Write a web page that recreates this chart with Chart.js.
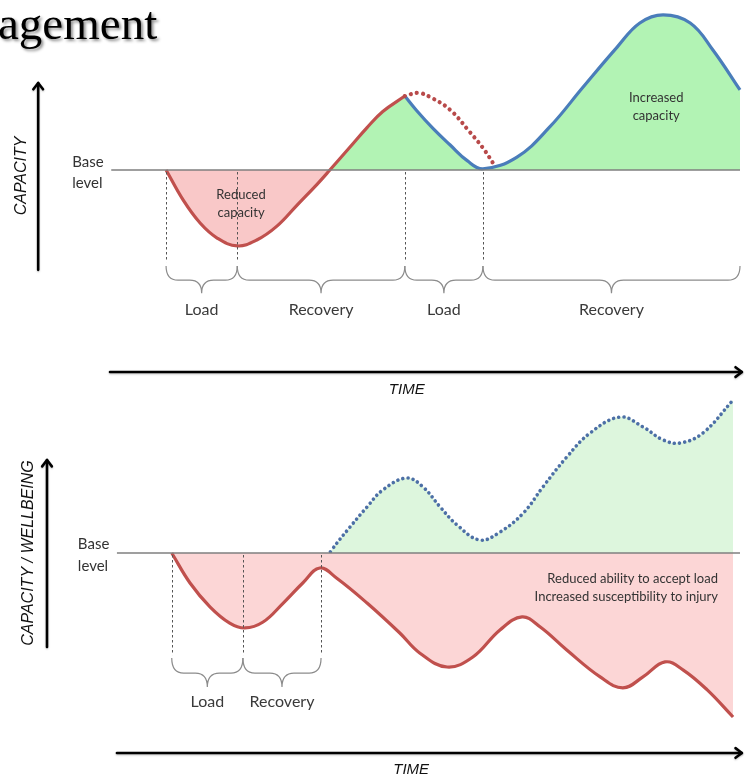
<!DOCTYPE html>
<html><head><meta charset="utf-8">
<script src="https://cdn.jsdelivr.net/npm/chart.js@4.4.1/dist/chart.umd.min.js"></script>
<style>
html,body{margin:0;padding:0;background:#fff;width:748px;height:777px;overflow:hidden}
canvas{position:absolute;left:0;display:block}
#topChart{top:0}
#botChart{top:380px}
</style></head><body>
<canvas id="topChart" width="748" height="400"></canvas>
<canvas id="botChart" width="748" height="397"></canvas>
<script>
// ---------- DATA (time 0..100, capacity relative to base level = 0) ----------
// Top panel: load / recovery leading to increased capacity
const topLoadTime = [8.9, 11.6, 14.3, 17.0, 20.2, 23.3, 26.5, 29.7, 32.9, 34.9, 38.1, 40.8, 43.3, 46.8];
const topLoadCap  = [0, -19.2, -34, -43.6, -48.7, -44.9, -36.0, -22.5, -9.0, 0, 14.7, 27.2, 37.5, 47.4];
const topGainTime = [46.8, 48.7, 51.3, 54.0, 56.7, 59.2, 64.6, 69.8, 75.1, 80.5, 84.1, 87.8, 92.1, 95.7, 100];
const topGainCap  = [47.4, 38.0, 26.5, 16.0, 6.0, 0.8, 8.3, 27.6, 53.2, 78.8, 94.2, 99.4, 94.2, 76.9, 51.3];
const topSkipTime = [46.8, 48.9, 50.8, 54.0, 57.1, 59.2, 61.0];
const topSkipCap  = [47.4, 49.4, 46.8, 38.5, 24.4, 14.1, 3.2];
const topPhaseBounds = [8.9, 20.2, 46.8, 59.2, 100];
const topPhaseLabels = ['Load', 'Recovery', 'Load', 'Recovery'];

// Bottom panel: insufficient recovery
const botStrainTime = [9.8, 12.7, 15.9, 19.0, 21.4, 24.3, 27.5, 30.6, 33.3, 36.0, 40.8, 46.0, 49.2, 53.5, 57.6, 61.9, 65.4, 68.3, 72.5, 77.8, 81.4, 84.6, 88.1, 91.0, 94.8, 98.9];
const botStrainCap  = [0, -19.6, -35.3, -45.8, -49.0, -45.1, -32.7, -19.6, -9.8, -16.5, -32.7, -52.3, -65.5, -74.5, -68.0, -50.3, -41.8, -48.4, -63.4, -81.0, -88.2, -81.0, -71.2, -76.5, -89.5, -107.2];
const botPotentialTime = [33.7, 35.2, 38.1, 40.8, 43.3, 47.1, 49.7, 52.4, 55.1, 58.7, 61.9, 65.6, 68.7, 72.5, 76.2, 81.0, 84.6, 87.8, 90.5, 94.1, 98.9];
const botPotentialCap  = [-7.8, 2.0, 17.0, 30.1, 41.2, 49.0, 43.1, 30.1, 18.3, 8.5, 13.7, 26.1, 43.1, 62.7, 78.4, 88.9, 82.4, 73.9, 71.9, 78.4, 100];
const botPhaseBounds = [9.8, 21.1, 33.5];
const botPhaseLabels = ['Load', 'Recovery'];

// ---------- helpers ----------
const pts = (xs, ys) => xs.map((x, i) => ({x: x, y: ys[i]}));
const RED = '#c0504d', BLUE = '#4a7dba';
const SANS = 'Lato, "Open Sans", sans-serif';
const AX = '"Liberation Sans", Arial, sans-serif';

function arrow(ctx, x1, y1, x2, y2) {
  ctx.save();
  ctx.strokeStyle = '#000'; ctx.lineWidth = 2.6; ctx.lineCap = 'round'; ctx.lineJoin = 'round';
  ctx.shadowColor = 'rgba(0,0,0,0.25)'; ctx.shadowBlur = 2; ctx.shadowOffsetY = 1;
  ctx.beginPath(); ctx.moveTo(x1, y1); ctx.lineTo(x2, y2); ctx.stroke();
  const a = Math.atan2(y2 - y1, x2 - x1), L = 8, s = 0.65;
  ctx.beginPath();
  ctx.moveTo(x2 - L * Math.cos(a - s), y2 - L * Math.sin(a - s));
  ctx.lineTo(x2, y2);
  ctx.lineTo(x2 - L * Math.cos(a + s), y2 - L * Math.sin(a + s));
  ctx.stroke();
  ctx.restore();
}
function brace(ctx, x1, x2, yTop, yTip) {
  const xm = (x1 + x2) / 2, ym = yTop + (yTip - yTop) * 0.52, r = Math.min(12, (x2 - x1) / 4);
  ctx.beginPath();
  ctx.moveTo(x1, yTop);
  ctx.quadraticCurveTo(x1, ym, x1 + r, ym);
  ctx.lineTo(xm - r, ym);
  ctx.quadraticCurveTo(xm, ym, xm, yTip);
  ctx.quadraticCurveTo(xm, ym, xm + r, ym);
  ctx.lineTo(x2 - r, ym);
  ctx.quadraticCurveTo(x2, ym, x2, yTop);
  ctx.stroke();
}

function makeDecor(cfg) {
  return {
    id: 'decor_' + cfg.name,
    afterDatasetsDraw(chart) {
      const ctx = chart.ctx, xs = chart.scales.x, ys = chart.scales.y;
      const X = v => xs.getPixelForValue(v), Y = v => ys.getPixelForValue(v);
      ctx.save();
      // base line
      ctx.strokeStyle = '#7f7f7f'; ctx.lineWidth = 1.6;
      ctx.beginPath(); ctx.moveTo(X(cfg.baseFrom), Y(0)); ctx.lineTo(X(100), Y(0)); ctx.stroke();
      // dashed phase lines
      ctx.strokeStyle = '#555'; ctx.lineWidth = 1; ctx.setLineDash([2.5, 2.5]);
      cfg.bounds.forEach((b) => {
        if (b >= 100) return;
        ctx.beginPath(); ctx.moveTo(Math.round(X(b)) + 0.5, Y(0) + 2); ctx.lineTo(Math.round(X(b)) + 0.5, Y(cfg.dashEnd)); ctx.stroke();
      });
      ctx.setLineDash([]);
      // braces + labels
      ctx.strokeStyle = '#8c8c8c'; ctx.lineWidth = 1.2;
      ctx.fillStyle = '#3a3a3a'; ctx.font = '16px ' + SANS; ctx.textAlign = 'center'; ctx.textBaseline = 'middle';
      for (let i = 0; i < cfg.labels.length; i++) {
        const a = X(cfg.bounds[i]), b = X(cfg.bounds[i + 1]);
        brace(ctx, a, b, Y(cfg.braceTop), Y(cfg.braceTip));
        ctx.fillText(cfg.labels[i], (a + b) / 2, Y(cfg.labelY));
      }
      // base level text
      ctx.textAlign = 'left'; ctx.font = '15px ' + SANS; ctx.fillStyle = '#333';
      ctx.fillText('Base', X(cfg.baseTextX), Y(cfg.baseTextY[0]));
      ctx.fillText('level', X(cfg.baseTextX), Y(cfg.baseTextY[1]));
      // notes
      cfg.notes.forEach(n => {
        ctx.font = n.size + 'px ' + SANS; ctx.textAlign = n.align; ctx.fillStyle = '#333';
        ctx.fillText(n.text, X(n.x), Y(n.y));
      });
      // axes arrows
      arrow(ctx, X(cfg.yArrow.x), Y(cfg.yArrow.from), X(cfg.yArrow.x), Y(cfg.yArrow.to));
      arrow(ctx, X(cfg.tArrow.from), Y(cfg.tArrow.y), X(cfg.tArrow.to), Y(cfg.tArrow.y));
      ctx.fillStyle = '#111'; ctx.font = 'italic 15px ' + AX; ctx.textAlign = 'center';
      ctx.fillText('TIME', X(cfg.timeLabel[0]), Y(cfg.timeLabel[1]));
      ctx.save();
      ctx.translate(X(cfg.yLabel.x), Y(cfg.yLabel.y)); ctx.rotate(-Math.PI / 2);
      ctx.font = 'italic 16px ' + AX; ctx.fillText(cfg.yLabel.text, 0, 0);
      ctx.restore();
      if (cfg.title) {
        ctx.save();
        ctx.font = '47px "Liberation Serif", "Times New Roman", serif'; ctx.textAlign = 'left'; ctx.textBaseline = 'alphabetic';
        ctx.shadowColor = 'rgba(0,0,0,0.45)'; ctx.shadowBlur = 3; ctx.shadowOffsetX = 2; ctx.shadowOffsetY = 2;
        ctx.fillStyle = '#000'; ctx.fillText(cfg.title, -2, 39);
        ctx.restore();
      }
      ctx.restore();
    }
  };
}

function baseOptions(yMin, yMax, pad) {
  return {
    responsive: false, animation: false, devicePixelRatio: 1,
    layout: {padding: pad},
    plugins: {legend: {display: false}, tooltip: {enabled: false}, title: {display: false}},
    elements: {point: {radius: 0}, line: {tension: 0.4, cubicInterpolationMode: 'default'}},
    scales: {
      x: {type: 'linear', min: 0, max: 100, display: false},
      y: {type: 'linear', min: yMin, max: yMax, display: false}
    }
  };
}

const GREEN_TOP = 'rgba(178,243,180,1)', PINK_TOP = 'rgba(249,200,200,1)';

// ---------- TOP CHART ----------
// fill area uses the load curve followed by the gain curve (cusp point repeated keeps the corner sharp)
new Chart(document.getElementById('topChart'), {
  type: 'line',
  data: {datasets: [
    {data: pts(topSkipTime, topSkipCap), borderColor: '#b84a4a', borderWidth: 4.2, clip: false,
     borderDash: [0.01, 6.2], borderCapStyle: 'round', fill: false},
    {data: pts(topLoadTime, topLoadCap), borderColor: RED, borderWidth: 3.2, clip: false, fill: false},
    {data: pts(topGainTime, topGainCap), borderColor: BLUE, borderWidth: 3.2, clip: false, fill: false},
    {data: pts(topLoadTime.concat(topGainTime), topLoadCap.concat(topGainCap)), borderWidth: 0,
     borderColor: 'rgba(0,0,0,0)', clip: false,
     fill: {target: 'origin', above: GREEN_TOP, below: PINK_TOP}}
  ]},
  options: baseOptions(-60, 100, {left: 110, right: 8, top: 14, bottom: 136.4}),
  plugins: [makeDecor({
    name: 'top', title: 'agement', baseFrom: 0.2,
    bounds: topPhaseBounds, labels: topPhaseLabels, dashEnd: -59,
    braceTop: -61.5, braceTip: -79, labelY: -89.7,
    baseTextX: -6.0, baseTextY: [5.1, -8.3],
    notes: [
      {text: 'Reduced', x: 20.8, y: -16.0, size: 13, align: 'center'},
      {text: 'capacity', x: 20.8, y: -27.5, size: 13, align: 'center'},
      {text: 'Increased', x: 86.7, y: 46.2, size: 13, align: 'center'},
      {text: 'capacity', x: 86.7, y: 35.0, size: 13, align: 'center'}
    ],
    yArrow: {x: -11.4, from: -64, to: 55.8},
    tArrow: {from: 0, to: 100.3, y: -129.5},
    timeLabel: [47.1, -141],
    yLabel: {x: -14.1, y: -3.8, text: 'CAPACITY'}
  })]
});

// ---------- BOTTOM CHART ----------
new Chart(document.getElementById('botChart'), {
  type: 'line',
  data: {datasets: [
    {data: pts(botStrainTime, botStrainCap), borderColor: RED, borderWidth: 3.2, clip: false,
     fill: {target: 'origin', above: 'rgba(0,0,0,0)', below: 'rgba(252,214,214,1)'}},
    {data: pts(botPotentialTime, botPotentialCap), borderColor: '#4c6fa6', borderWidth: 3.6, clip: false,
     borderDash: [0.01, 5.2], borderCapStyle: 'round',
     fill: {target: 'origin', above: 'rgba(221,246,221,1)', below: 'rgba(0,0,0,0)'}}
  ]},
  options: baseOptions(-120, 100, {left: 110, right: 8, top: 20, bottom: 40.4}),
  plugins: [makeDecor({
    name: 'bot', baseFrom: 1.1,
    bounds: botPhaseBounds, labels: botPhaseLabels, dashEnd: -66.7,
    braceTop: -68.6, braceTip: -87.6, labelY: -97.4,
    baseTextX: -5.1, baseTextY: [5.9, -8.5],
    notes: [
      {text: 'Reduced ability to accept load', x: 96.5, y: -17.0, size: 13, align: 'right'},
      {text: 'Increased susceptibility to injury', x: 96.5, y: -28.8, size: 13, align: 'right'}
    ],
    yArrow: {x: -10, from: -61.4, to: 60.8},
    tArrow: {from: 1.1, to: 100.3, y: -130.7},
    timeLabel: [47.8, -141.8],
    yLabel: {x: -12.9, y: 0, text: 'CAPACITY / WELLBEING'}
  })]
});
</script>
</body></html>
